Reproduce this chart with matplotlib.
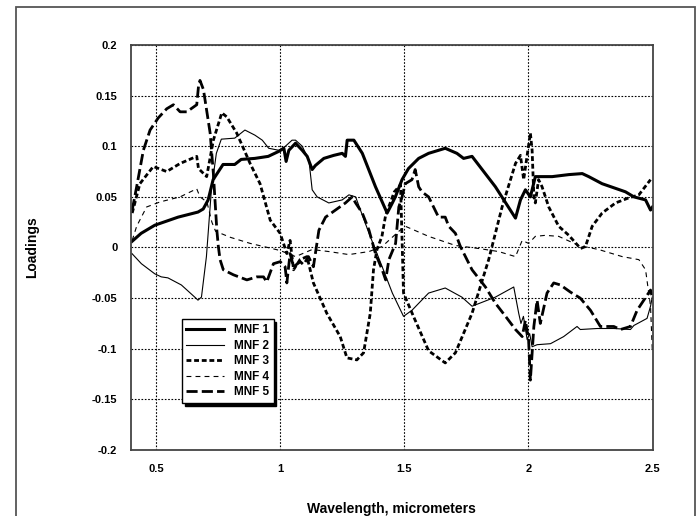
import matplotlib
matplotlib.use("Agg")
import matplotlib.pyplot as plt
from matplotlib.patches import Rectangle

plt.rcParams['font.family'] = ['Liberation Sans', 'DejaVu Sans']
plt.rcParams['font.weight'] = 'bold'
plt.rcParams['lines.scale_dashes'] = False

# ---- data ----
x1 = [0.403, 0.44, 0.495, 0.589, 0.669, 0.69, 0.71, 0.73, 0.77, 0.817, 0.843, 0.898, 0.952,
      0.995, 1.015, 1.024, 1.035, 1.062, 1.089, 1.109, 1.129, 1.142, 1.176, 1.216, 1.25,
      1.263, 1.27, 1.297, 1.331, 1.384, 1.431, 1.452, 1.464, 1.491, 1.517, 1.558, 1.598,
      1.665, 1.712, 1.739, 1.773, 1.867, 1.948, 1.968, 1.988, 2.008, 2.028, 2.096, 2.163,
      2.217, 2.243, 2.297, 2.391, 2.425, 2.472, 2.492, 2.5]
y1 = [0.006, 0.014, 0.022, 0.030, 0.035, 0.038, 0.047, 0.067, 0.082, 0.082, 0.087, 0.088, 0.090,
      0.095, 0.098, 0.085, 0.096, 0.103, 0.096, 0.090, 0.077, 0.081, 0.088, 0.091, 0.093,
      0.090, 0.106, 0.106, 0.093, 0.060, 0.034, 0.044, 0.050, 0.067, 0.078, 0.088, 0.093,
      0.098, 0.093, 0.088, 0.090, 0.060, 0.029, 0.047, 0.057, 0.050, 0.070, 0.070, 0.072,
      0.073, 0.070, 0.063, 0.055, 0.050, 0.047, 0.037, 0.040]

x2 = [0.403, 0.441, 0.495, 0.521, 0.548, 0.602, 0.656, 0.669, 0.683, 0.703, 0.723, 0.743, 0.763,
      0.817, 0.858, 0.898, 0.928, 0.954, 0.995, 1.021, 1.048, 1.062, 1.089, 1.116, 1.129,
      1.149, 1.196, 1.25, 1.277, 1.304, 1.358, 1.411, 1.452, 1.497, 1.531, 1.598, 1.665,
      1.732, 1.773, 1.867, 1.941, 1.961, 1.97, 1.98, 1.995, 2.005, 2.015, 2.035, 2.089,
      2.142, 2.196, 2.209, 2.277, 2.344, 2.411, 2.425, 2.478, 2.492, 2.499]
y2 = [-0.006, -0.016, -0.026, -0.029, -0.030, -0.037, -0.049, -0.052, -0.049, -0.009, 0.057, 0.093, 0.107,
      0.108, 0.116, 0.111, 0.106, 0.098, 0.096, 0.100, 0.106, 0.106, 0.100, 0.086, 0.057,
      0.050, 0.044, 0.047, 0.052, 0.050, 0.014, -0.019, -0.045, -0.068, -0.062, -0.045, -0.040,
      -0.049, -0.058, -0.049, -0.039, -0.065, -0.075, -0.068, -0.091, -0.085, -0.098, -0.096, -0.095,
      -0.088, -0.078, -0.081, -0.080, -0.080, -0.081, -0.077, -0.070, -0.058, -0.049]

x3 = [0.404, 0.435, 0.489, 0.543, 0.597, 0.664, 0.671, 0.704, 0.731, 0.765, 0.785, 0.825, 0.879,
      0.919, 0.96, 1.0, 1.027, 1.04, 1.054, 1.08, 1.108, 1.134, 1.188, 1.242, 1.269, 1.309,
      1.336, 1.363, 1.376, 1.39, 1.41, 1.425, 1.46, 1.485, 1.497, 1.537, 1.598, 1.665, 1.706,
      1.773, 1.84, 1.894, 1.948, 1.968, 1.981, 1.995, 2.008, 2.015, 2.022, 2.028, 2.041, 2.055,
      2.082, 2.122, 2.163, 2.21, 2.23, 2.257, 2.297, 2.351, 2.404, 2.445, 2.492]
y3 = [0.034, 0.063, 0.080, 0.075, 0.083, 0.090, 0.078, 0.070, 0.106, 0.133, 0.129, 0.113, 0.083,
      0.063, 0.027, 0.014, -0.006, 0.007, -0.022, -0.012, -0.009, -0.035, -0.065, -0.088, -0.109, -0.111,
      -0.104, -0.065, -0.022, -0.002, 0.011, 0.032, 0.055, 0.062, -0.045, -0.068, -0.102, -0.114, -0.104,
      -0.065, -0.012, 0.040, 0.083, 0.091, 0.067, 0.091, 0.113, 0.096, 0.050, 0.044, 0.067, 0.060,
      0.040, 0.021, 0.012, -0.001, 0.001, 0.021, 0.034, 0.044, 0.049, 0.052, 0.067]

x4 = [0.404, 0.422, 0.462, 0.516, 0.597, 0.664, 0.677, 0.705, 0.725, 0.74, 0.8, 0.88, 0.95,
      1.0, 1.062, 1.129, 1.196, 1.277, 1.358, 1.411, 1.478, 1.504, 1.598, 1.706, 1.8, 1.88,
      1.948, 1.975, 2.001, 2.028, 2.068, 2.122, 2.203, 2.283, 2.378, 2.445, 2.472, 2.492, 2.499]
y4 = [0.007, 0.021, 0.040, 0.045, 0.050, 0.058, 0.050, 0.045, 0.025, 0.016, 0.010, 0.004, 0.000,
      -0.003, -0.009, -0.002, -0.004, -0.007, -0.004, 0.001, 0.016, 0.021, 0.011, 0.002, -0.001, -0.004,
      -0.009, 0.007, 0.004, 0.011, 0.012, 0.011, 0.002, -0.002, -0.009, -0.012, -0.022, -0.058, -0.101]

x5 = [0.404, 0.422, 0.449, 0.476, 0.509, 0.543, 0.57, 0.597, 0.624, 0.664, 0.671, 0.677, 0.691,
      0.718, 0.731, 0.745, 0.751, 0.758, 0.771, 0.812, 0.866, 0.906, 0.933, 0.946, 0.973, 1.0,
      1.02, 1.027, 1.04, 1.054, 1.081, 1.094, 1.114, 1.134, 1.156, 1.183, 1.223, 1.263, 1.29,
      1.304, 1.331, 1.358, 1.384, 1.411, 1.425, 1.438, 1.465, 1.478, 1.491, 1.504, 1.531, 1.544,
      1.558, 1.571, 1.598, 1.638, 1.665, 1.679, 1.706, 1.726, 1.773, 1.827, 1.867, 1.908, 1.948,
      1.975, 1.988, 2.001, 2.008, 2.022, 2.035, 2.048, 2.075, 2.102, 2.129, 2.169, 2.209, 2.25,
      2.29, 2.344, 2.371, 2.411, 2.438, 2.465, 2.492, 2.499]
y5 = [0.037, 0.060, 0.096, 0.116, 0.128, 0.137, 0.141, 0.134, 0.134, 0.141, 0.159, 0.165, 0.156,
      0.113, 0.073, 0.017, 0.001, -0.012, -0.022, -0.027, -0.032, -0.029, -0.029, -0.034, -0.016, -0.014,
      -0.019, -0.035, -0.006, -0.019, -0.014, -0.017, -0.009, -0.019, 0.017, 0.030, 0.037, 0.044, 0.050,
      0.044, 0.034, 0.017, -0.006, -0.022, -0.032, -0.012, 0.004, 0.040, 0.050, 0.063, 0.067, 0.077,
      0.060, 0.055, 0.050, 0.030, 0.030, 0.021, 0.014, 0.001, -0.022, -0.039, -0.055, -0.068, -0.081,
      -0.088, -0.072, -0.092, -0.131, -0.078, -0.052, -0.075, -0.045, -0.035, -0.037, -0.044, -0.050, -0.062,
      -0.078, -0.078, -0.081, -0.078, -0.062, -0.052, -0.042, -0.049]

labels = ["MNF 1", "MNF 2", "MNF 3", "MNF 4", "MNF 5"]
xticks = [0.5, 1, 1.5, 2, 2.5]
xtick_labels = ["0.5", "1", "1.5", "2", "2.5"]
yticks = [0.2, 0.15, 0.1, 0.05, 0, -0.05, -0.1, -0.15, -0.2]
ytick_labels = ["0.2", "0.15", "0.1", "0.05", "0", "-0.05", "-0.1", "-0.15", "-0.2"]

fig = plt.figure(figsize=(6.99, 5.16), dpi=100)
ax = fig.add_axes([0.1877, 0.1279, 0.7458, 0.7849])

# outer frame of the figure (bottom edge runs off the picture)
fig.patches.append(Rectangle((16 / 699, -0.05), (695 - 16) / 699, 1.05 - 7 / 516,
                             transform=fig.transFigure, fill=False, ec="#555555", lw=1.3))

ax.plot(x1, y1, color="k", lw=2.2, ls="-", label=labels[0])
ax.plot(x2, y2, color="k", lw=0.8, ls="-", label=labels[1])
ax.plot(x3, y3, color="k", lw=2.0, ls=(0, (3.5, 2)), label=labels[2])
ax.plot(x4, y4, color="k", lw=0.8, ls=(0, (3.5, 3)), label=labels[3])
ax.plot(x5, y5, color="k", lw=2.0, ls=(0, (8, 3)), label=labels[4])

ax.set_xlim(0.4, 2.5)
ax.set_ylim(-0.2, 0.2)
ax.set_xticks(xticks, xtick_labels)
ax.set_yticks(yticks, ytick_labels)
ax.tick_params(length=0, labelsize=8, pad=10)
ax.grid(True, color="k", ls=(0, (1.2, 1.2)), lw=0.8)
for s in ax.spines.values():
    s.set_color("#444444"); s.set_linewidth(1.3)

ax.set_xlabel("Wavelength, micrometers", fontsize=10, fontweight="bold", labelpad=20)
ax.set_ylabel("Loadings", fontsize=10, fontweight="bold", labelpad=38)

leg = ax.legend(loc="lower left", bbox_to_anchor=(0.097, 0.116), borderaxespad=0,
                fontsize=8.5, fancybox=False, edgecolor="k", framealpha=1,
                handlelength=3.2, labelspacing=0.3, markerfirst=True,
                shadow={"facecolor": "k", "edgecolor": "k", "alpha": 1})
leg.get_frame().set_linewidth(1.0)
for t in leg.get_texts():
    t.set_fontweight("bold")

fig.savefig("out.png", dpi=100)
